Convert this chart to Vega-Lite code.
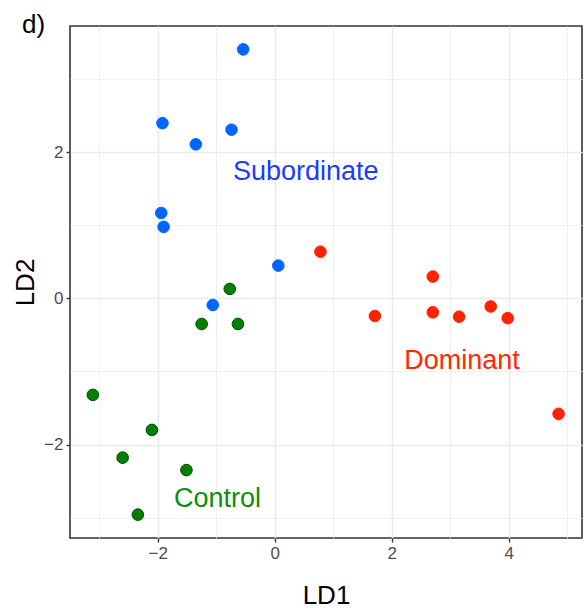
{
  "$schema": "https://vega.github.io/schema/vega-lite/v6.json",
  "autosize": {"type": "none"},
  "padding": {"left": 70, "top": 26, "right": 6, "bottom": 75},
  "width": 512,
  "height": 512,
  "background": "white",
  "title": {"text": "d)", "anchor": "start", "frame": "group", "dx": -48, "dy": 16, "offset": 4, "fontSize": 26, "fontWeight": "normal", "font": "Liberation Sans", "color": "black"},
  "config": {
    "view": {"stroke": "#333333", "strokeWidth": 1.6},
    "font": "Liberation Sans"
  },
  "datasets": {
    "points": [
      {"LD1": -0.54, "LD2": 3.41, "group": "Subordinate"},
      {"LD1": -1.92, "LD2": 2.40, "group": "Subordinate"},
      {"LD1": -0.74, "LD2": 2.31, "group": "Subordinate"},
      {"LD1": -1.35, "LD2": 2.11, "group": "Subordinate"},
      {"LD1": -1.94, "LD2": 1.17, "group": "Subordinate"},
      {"LD1": -1.90, "LD2": 0.98, "group": "Subordinate"},
      {"LD1": 0.06, "LD2": 0.45, "group": "Subordinate"},
      {"LD1": -1.06, "LD2": -0.09, "group": "Subordinate"},
      {"LD1": -0.77, "LD2": 0.13, "group": "Control"},
      {"LD1": -1.25, "LD2": -0.35, "group": "Control"},
      {"LD1": -0.63, "LD2": -0.35, "group": "Control"},
      {"LD1": -3.11, "LD2": -1.32, "group": "Control"},
      {"LD1": -2.10, "LD2": -1.80, "group": "Control"},
      {"LD1": -2.60, "LD2": -2.18, "group": "Control"},
      {"LD1": -1.51, "LD2": -2.35, "group": "Control"},
      {"LD1": -2.34, "LD2": -2.96, "group": "Control"},
      {"LD1": 0.78, "LD2": 0.64, "group": "Dominant"},
      {"LD1": 1.71, "LD2": -0.24, "group": "Dominant"},
      {"LD1": 2.70, "LD2": 0.30, "group": "Dominant"},
      {"LD1": 2.70, "LD2": -0.19, "group": "Dominant"},
      {"LD1": 3.15, "LD2": -0.25, "group": "Dominant"},
      {"LD1": 3.69, "LD2": -0.11, "group": "Dominant"},
      {"LD1": 3.98, "LD2": -0.27, "group": "Dominant"},
      {"LD1": 4.85, "LD2": -1.58, "group": "Dominant"}
    ],
    "labels": [
      {"LD1": 0.53, "LD2": 1.73, "label": "Subordinate"},
      {"LD1": 3.20, "LD2": -0.85, "label": "Dominant"},
      {"LD1": -0.98, "LD2": -2.74, "label": "Control"}
    ]
  },
  "resolve": {"scale": {"color": "independent", "stroke": "independent"}},
  "encoding": {
    "x": {
      "field": "LD1", "type": "quantitative",
      "scale": {"domain": [-3.5, 5.25], "nice": false, "zero": false},
      "axis": {
        "title": "LD1",
        "values": [-3, -2, -1, 0, 1, 2, 3, 4, 5],
        "labelExpr": "datum.value % 2 === 0 ? datum.label : ''",
        "domain": false,
        "grid": true,
        "gridColor": "#ebebeb",
        "gridWidth": {"condition": {"test": "datum.value % 2 === 0", "value": 1.6}, "value": 0.8},
        "ticks": true,
        "tickSize": 4,
        "tickColor": "#333333",
        "tickWidth": 1.4,
        "tickOpacity": {"condition": {"test": "datum.value % 2 === 0", "value": 1}, "value": 0},
        "labelFontSize": 17,
        "labelColor": "#4d4d4d",
        "labelPadding": 3,
        "labelFont": "Liberation Sans",
        "titleFont": "Liberation Sans",
        "titleFontSize": 26,
        "titleFontWeight": "normal",
        "titleColor": "black",
        "titlePadding": 21
      }
    },
    "y": {
      "field": "LD2", "type": "quantitative",
      "scale": {"domain": [-3.28, 3.73], "nice": false, "zero": false},
      "axis": {
        "title": "LD2",
        "values": [-3, -2, -1, 0, 1, 2, 3],
        "labelExpr": "datum.value % 2 === 0 ? datum.label : ''",
        "domain": false,
        "grid": true,
        "gridColor": "#ebebeb",
        "gridWidth": {"condition": {"test": "datum.value % 2 === 0", "value": 1.6}, "value": 0.8},
        "ticks": true,
        "tickSize": 4,
        "tickColor": "#333333",
        "tickWidth": 1.4,
        "tickOpacity": {"condition": {"test": "datum.value % 2 === 0", "value": 1}, "value": 0},
        "labelFontSize": 17,
        "labelColor": "#4d4d4d",
        "labelPadding": 3,
        "labelFont": "Liberation Sans",
        "titleFont": "Liberation Sans",
        "titleFontSize": 26,
        "titleFontWeight": "normal",
        "titleColor": "black",
        "titlePadding": 5
      }
    }
  },
  "layer": [
    {
      "data": {"name": "points"},
      "mark": {"type": "circle", "size": 135, "opacity": 1, "strokeWidth": 1},
      "encoding": {
        "color": {
          "field": "group", "type": "nominal", "legend": null,
          "scale": {"domain": ["Subordinate", "Dominant", "Control"], "range": ["#0066ff", "#ff2200", "#008000"]}
        },
        "stroke": {
          "field": "group", "type": "nominal", "legend": null,
          "scale": {"domain": ["Subordinate", "Dominant", "Control"], "range": ["#0066ff", "#ff2200", "#004d00"]}
        }
      }
    },
    {
      "data": {"name": "labels"},
      "mark": {"type": "text", "fontSize": 27, "font": "Liberation Sans", "align": "center", "baseline": "middle"},
      "encoding": {
        "text": {"field": "label", "type": "nominal"},
        "color": {
          "field": "label", "type": "nominal", "legend": null,
          "scale": {"domain": ["Subordinate", "Dominant", "Control"], "range": ["#1a3cff", "#ff2a00", "#0a8f0a"]}
        }
      }
    }
  ]
}
